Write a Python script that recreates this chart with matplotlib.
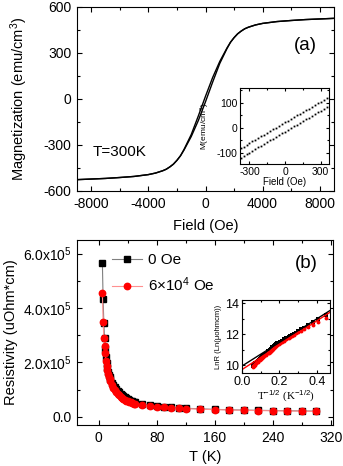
import numpy as np
import matplotlib
matplotlib.use("Agg")
import matplotlib.pyplot as plt
from matplotlib.ticker import MultipleLocator, FixedLocator, FixedFormatter

plt.rcParams['font.family'] = ['Liberation Sans', 'DejaVu Sans']
plt.rcParams['mathtext.fontset'] = 'custom'
plt.rcParams['mathtext.rm'] = 'Liberation Sans'
plt.rcParams['mathtext.it'] = 'Liberation Sans:italic'
plt.rcParams['axes.unicode_minus'] = False

# ---------------- (a) M-H loop at 300 K ----------------
field = [-9000, -8000, -7000, -6000, -5000, -4000, -3500, -3000, -2750, -2500,
         -2250, -2000, -1750, -1500, -1000, -500, 0, 500, 1000, 1500, 1750,
         2000, 2250, 2500, 2750, 3000, 3500, 4000, 5000, 6000, 7000, 8000, 9000]
m_up = [-526, -522, -518, -512, -505, -493, -483, -468, -458, -443,
        -425, -400, -370, -332, -245, -140, -18, 110, 232, 328, 370,
        400, 425, 443, 458, 468, 483, 493, 505, 512, 518, 522, 526]
m_down = [-526, -522, -518, -512, -505, -493, -483, -468, -458, -443,
          -425, -400, -370, -328, -232, -110, 18, 140, 245, 332, 370,
          400, 425, 443, 458, 468, 483, 493, 505, 512, 518, 522, 526]

# inset (a): low field part of the loop
field_in = [-400, -375, -350, -325, -300, -275, -250, -225, -200, -175, -150,
            -125, -100, -75, -50, -25, 0, 25, 50, 75, 100, 125, 150, 175, 200,
            225, 250, 275, 300, 325, 350, 375, 400]
m_in_down = [-89, -82, -75, -68, -61, -54, -47, -40, -33, -27, -20, -13, -6,
             1, 8, 15, 22, 29, 36, 43, 50, 57, 64, 71, 77, 84, 91, 98, 105,
             112, 119, 126, 133]
m_in_up = [-127, -120, -113, -106, -99, -92, -85, -78, -71, -64, -57, -50, -43,
           -36, -29, -22, -15, -8, -1, 6, 13, 20, 27, 34, 41, 48, 55, 62, 69,
           76, 83, 90, 97]

# ---------------- (b) resistivity vs T ----------------
temp = [5, 6, 7, 8, 9, 10, 11, 12, 13, 14, 15, 16, 18, 20, 22, 24, 26, 28, 30,
        32, 34, 36, 38, 40, 42, 44, 46, 48, 50, 60, 70, 80, 90, 100, 110, 120,
        140, 160, 180, 200, 220, 240, 260, 280, 300]
rho_0 = [5.65, 4.32, 3.46, 2.90, 2.50, 2.20, 1.98, 1.80, 1.66, 1.55, 1.46, 1.38,
         1.26, 1.16, 1.08, 1.01, 0.95, 0.90, 0.85, 0.80, 0.76, 0.72, 0.69, 0.66,
         0.63, 0.60, 0.58, 0.56, 0.54, 0.46, 0.42, 0.39, 0.365, 0.345, 0.33,
         0.315, 0.295, 0.275, 0.26, 0.25, 0.24, 0.232, 0.225, 0.218, 0.21]  # x1e5
rho_6 = [4.56, 3.49, 2.90, 2.60, 2.33, 2.05, 1.88, 1.72, 1.58, 1.47, 1.38, 1.30,
         1.16, 1.05, 0.97, 0.90, 0.84, 0.79, 0.74, 0.70, 0.66, 0.63, 0.60, 0.57,
         0.55, 0.53, 0.51, 0.49, 0.47, 0.42, 0.39, 0.37, 0.345, 0.33, 0.315,
         0.30, 0.28, 0.265, 0.25, 0.24, 0.23, 0.222, 0.215, 0.208, 0.20]  # x1e5
fit_0 = [9.95, 7.6]    # intercept, slope of LnR vs T^-1/2
fit_6 = [9.72, 7.85]

temp = np.array(temp, float)
rho_0 = np.array(rho_0) * 1e5
rho_6 = np.array(rho_6) * 1e5


def style(ax, fs, major=3.5, minor=2.0):
    ax.tick_params(which='both', direction='in', top=True, right=True,
                   labelsize=fs, width=0.8)
    ax.tick_params(which='major', length=major, pad=4)
    ax.tick_params(which='minor', length=minor)
    for s in ax.spines.values():
        s.set_linewidth(0.8)


W, H = 343, 466
fig = plt.figure(figsize=(W / 100, H / 100), dpi=100)


def box(l, r, t, b):
    return [l / W, 1 - b / H, (r - l) / W, (b - t) / H]


# ---- panel (a)
ax0 = fig.add_axes(box(77, 334, 7, 191))
ax0.plot(field, m_up, color='k', lw=1.0)
ax0.plot(field[::-1], m_down[::-1], color='k', lw=1.0)
ax0.set_xlim(-9000, 9000)
ax0.set_ylim(-600, 600)
ax0.xaxis.set_major_locator(MultipleLocator(4000))
ax0.xaxis.set_minor_locator(MultipleLocator(2000))
ax0.yaxis.set_major_locator(MultipleLocator(300))
ax0.yaxis.set_minor_locator(MultipleLocator(150))
style(ax0, 10)
ax0.set_xlabel('Field (Oe)', fontsize=10.5, labelpad=6)
ax0.set_ylabel('Magnetization (emu/cm$^3$)', fontsize=10.5, labelpad=10)
ax0.text(0.887, 0.79, '(a)', transform=ax0.transAxes, fontsize=13.5, ha='center', va='center')
ax0.text(0.06, 0.21, 'T=300K', transform=ax0.transAxes, fontsize=11, ha='left', va='center')

axi0 = fig.add_axes(box(240, 329, 88, 164))
axi0.plot(field_in, m_in_down, ls='none', marker='s', ms=1.3, color='k', mew=0)
axi0.plot(field_in, m_in_up, ls='none', marker='s', ms=1.3, color='k', mew=0)
axi0.set_xlim(-380, 370)
axi0.set_ylim(-145, 160)
axi0.xaxis.set_major_locator(MultipleLocator(300))
axi0.xaxis.set_minor_locator(MultipleLocator(150))
axi0.yaxis.set_major_locator(MultipleLocator(100))
axi0.yaxis.set_minor_locator(MultipleLocator(50))
style(axi0, 7.5, major=2.5, minor=1.5)
axi0.tick_params(which='major', pad=2)
axi0.set_xlabel('Field (Oe)', fontsize=7, labelpad=0)
axi0.set_ylabel('M(emu/cm$^3$)', fontsize=6, labelpad=3)

# ---- panel (b)
ax1 = fig.add_axes(box(77, 333, 240, 425))
ax1.plot(temp, rho_0, color='#808080', lw=0.8, marker='s', ms=4,
         mfc='k', mec='k', label='0 Oe', zorder=3)
ax1.plot(temp, rho_6, color='#ff9090', lw=0.8, marker='o', ms=4.6,
         mfc='#ff0000', mec='#ff0000', label='6\u00d710$^4$ Oe', zorder=4)
ax1.set_xlim(-30, 323)
ax1.set_ylim(-0.3e5, 6.5e5)
ax1.xaxis.set_major_locator(MultipleLocator(80))
ax1.xaxis.set_minor_locator(MultipleLocator(40))
yt = [0, 2e5, 4e5, 6e5]
ax1.yaxis.set_major_locator(FixedLocator(yt))
ax1.yaxis.set_major_formatter(FixedFormatter(['0.0', '2.0x10$^5$', '4.0x10$^5$', '6.0x10$^5$']))
ax1.yaxis.set_minor_locator(MultipleLocator(1e5))
style(ax1, 10)
ax1.set_xlabel('T (K)', fontsize=10.5, labelpad=4)
ax1.set_ylabel('Resistivity (uOhm*cm)', fontsize=10.5, labelpad=3)
ax1.text(0.897, 0.874, '(b)', transform=ax1.transAxes, fontsize=13.5, ha='center', va='center')
leg = ax1.legend(loc='upper left', bbox_to_anchor=(0.1355, 0.93), frameon=False,
                 fontsize=11, handlelength=2.0, handletextpad=0.35,
                 labelspacing=0.55, borderpad=0, borderaxespad=0)

axi1 = fig.add_axes(box(242, 330, 300, 373))
xs = temp ** -0.5
axi1.plot(xs, np.log(rho_0), ls='none', marker='s', ms=2.6, color='k', mew=0)
axi1.plot(xs, np.log(rho_6), ls='none', marker='o', ms=2.8, color='#ff0000', mew=0)
xl = np.array([0, 0.47])
axi1.plot(xl, fit_0[0] + fit_0[1] * xl, color='k', lw=1.0)
axi1.plot(xl, fit_6[0] + fit_6[1] * xl, color='#ff0000', lw=1.0)
axi1.set_xlim(0, 0.47)
axi1.set_ylim(9.5, 14.2)
axi1.xaxis.set_major_locator(MultipleLocator(0.2))
axi1.xaxis.set_minor_locator(MultipleLocator(0.1))
axi1.yaxis.set_major_locator(MultipleLocator(2))
axi1.yaxis.set_minor_locator(MultipleLocator(1))
style(axi1, 9, major=2.5, minor=1.5)
axi1.tick_params(which='major', pad=2)
axi1.xaxis.set_major_formatter(plt.FuncFormatter(lambda v, p: '%.1f' % v))
axi1.set_xlabel('T$^{-1/2}$ (K$^{-1/2}$)', fontsize=8, labelpad=1,
                family=['Liberation Serif', 'DejaVu Serif'])
axi1.set_ylabel('LnR (Ln(\u03bcohmcm))', fontsize=5.5, labelpad=2)

fig.savefig('out.png', dpi=100)
